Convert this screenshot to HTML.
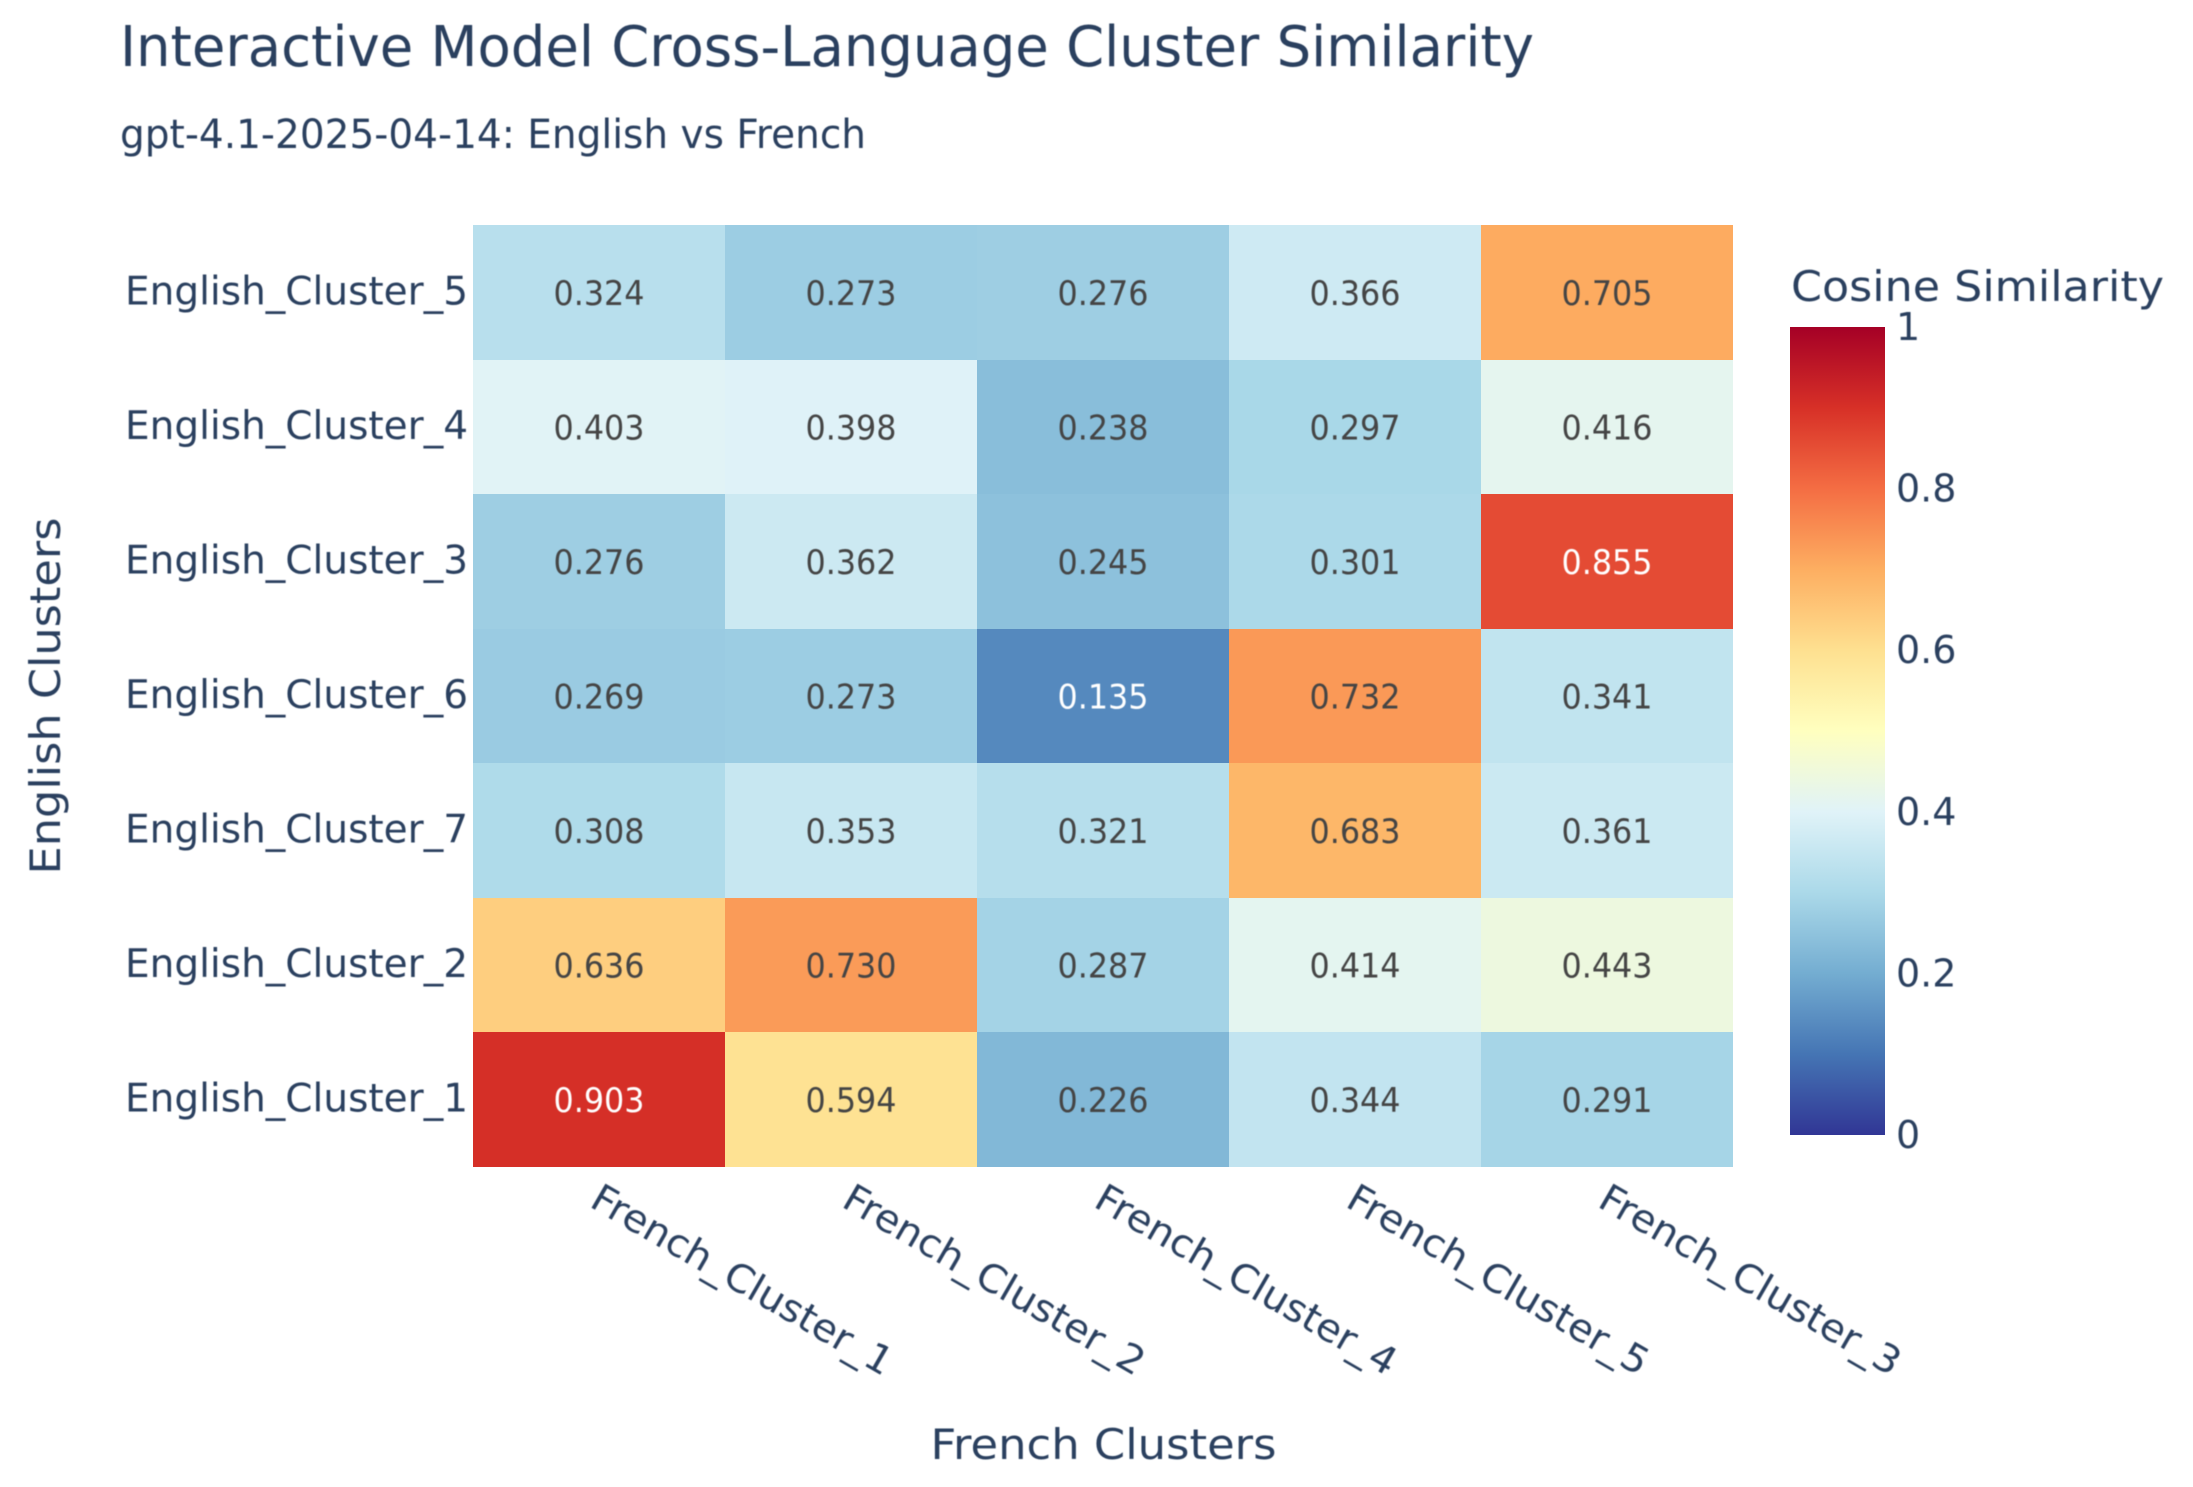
<!DOCTYPE html>
<html lang="en">
<head>
<meta charset="utf-8">
<title>Interactive Model Cross-Language Cluster Similarity</title>
<style>
html,body{margin:0;padding:0;background:#fff;width:2193px;height:1487px;overflow:hidden}
svg{display:block}
text{font-family:"DejaVu Sans","Liberation Sans",sans-serif;fill:#2a3f5f;filter:url(#soften)}
</style>
</head>
<body>
<svg id="chart" xmlns="http://www.w3.org/2000/svg" width="2193" height="1487" viewBox="0 0 2193 1487">
  <defs>
    <linearGradient id="cbar-gradient" x1="0" y1="1" x2="0" y2="0"></linearGradient>
    <filter id="soften" x="-5%" y="-30%" width="110%" height="160%"><feGaussianBlur stdDeviation="0.6"/></filter>
  </defs>
  <rect x="0" y="0" width="2193" height="1487" fill="#ffffff"/>
  <text x="120" y="66" font-size="56" textLength="1414" lengthAdjust="spacingAndGlyphs">Interactive Model Cross-Language Cluster Similarity</text>
  <text x="120" y="148" font-size="40" textLength="746" lengthAdjust="spacingAndGlyphs">gpt-4.1-2025-04-14: English vs French</text>
  <g id="cells"></g>
  <g id="cell-labels"></g>
  <g id="y-ticks"></g>
  <g id="x-ticks"></g>
  <text x="1103.5" y="1459" font-size="42" text-anchor="middle" textLength="346" lengthAdjust="spacingAndGlyphs">French Clusters</text>
  <text x="0" y="0" transform="translate(60,696) rotate(-90)" font-size="42" text-anchor="middle" textLength="357" lengthAdjust="spacingAndGlyphs">English Clusters</text>
  <text x="1791" y="301" font-size="42" textLength="373" lengthAdjust="spacingAndGlyphs">Cosine Similarity</text>
  <rect id="cbar" x="1790" y="327" width="95" height="808" fill="url(#cbar-gradient)"/>
  <g id="cbar-ticks"></g>
</svg>
<script>
// Chart data
const frenchClusters = ["French_Cluster_1", "French_Cluster_2", "French_Cluster_4", "French_Cluster_5", "French_Cluster_3"];
const englishClusters = ["English_Cluster_5", "English_Cluster_4", "English_Cluster_3", "English_Cluster_6", "English_Cluster_7", "English_Cluster_2", "English_Cluster_1"];
const rowCluster5 = [0.324, 0.273, 0.276, 0.366, 0.705];
const rowCluster4 = [0.403, 0.398, 0.238, 0.297, 0.416];
const rowCluster3 = [0.276, 0.362, 0.245, 0.301, 0.855];
const rowCluster6 = [0.269, 0.273, 0.135, 0.732, 0.341];
const rowCluster7 = [0.308, 0.353, 0.321, 0.683, 0.361];
const rowCluster2 = [0.636, 0.730, 0.287, 0.414, 0.443];
const rowCluster1 = [0.903, 0.594, 0.226, 0.344, 0.291];
const similarity = [rowCluster5, rowCluster4, rowCluster3, rowCluster6, rowCluster7, rowCluster2, rowCluster1];
const colorbarTicks = [0, 0.2, 0.4, 0.6, 0.8, 1];
const colorbarTickLabels = ["0", "0.2", "0.4", "0.6", "0.8", "1"];
const colorScale = [[49,54,149],[69,117,180],[116,173,209],[171,217,233],[224,243,248],[255,255,191],[254,224,144],[253,174,97],[244,109,67],[215,48,39],[165,0,38]];

// Layout
const plotLeft = 473, plotRight = 1733, plotTop = 225, plotBottom = 1167;
const cbarTop = 327, cbarBottom = 1135;
const NS = "http://www.w3.org/2000/svg";

// Axis functions
function xBand(i) { return plotLeft + i * (plotRight - plotLeft) / frenchClusters.length; }
function yBand(j) { return plotTop + j * (plotBottom - plotTop) / englishClusters.length; }
function cbarY(v) { return cbarBottom + (cbarTop - cbarBottom) * v; }
function colorFor(v) {
  const t = Math.max(0, Math.min(1, v)) * (colorScale.length - 1);
  const k = Math.min(Math.floor(t), colorScale.length - 2);
  const f = t - k;
  const c = colorScale[k].map(function (a, n) { return Math.round(a + (colorScale[k + 1][n] - a) * f); });
  return "rgb(" + c.join(",") + ")";
}
function textColorFor(v) { return (v < 0.2 || v > 0.8) ? "#ffffff" : "#444444"; }

const cellsGroup = document.getElementById("cells");
const cellLabelsGroup = document.getElementById("cell-labels");
const yTicksGroup = document.getElementById("y-ticks");
const xTicksGroup = document.getElementById("x-ticks");
const cbarTicksGroup = document.getElementById("cbar-ticks");
const gradient = document.getElementById("cbar-gradient");

// Cells and printed values
similarity.forEach(function (row, j) {
  row.forEach(function (v, i) {
    const x0 = Math.round(xBand(i)), x1 = Math.round(xBand(i + 1));
    const y0 = Math.round(yBand(j)), y1 = Math.round(yBand(j + 1));
    const rect = document.createElementNS(NS, "rect");
    
    
    rect.setAttribute("x", x0);
    rect.setAttribute("y", y0);
    rect.setAttribute("width", x1 - x0);
    rect.setAttribute("height", y1 - y0);
    rect.setAttribute("fill", colorFor(v));
    cellsGroup.appendChild(rect);

    const label = document.createElementNS(NS, "text");
    
    
    label.setAttribute("x", (x0 + x1) / 2);
    label.setAttribute("y", (y0 + y1) / 2 + 12.5);
    label.setAttribute("font-size", "34");
    label.setAttribute("text-anchor", "middle");
    label.setAttribute("textLength", "91");
    label.setAttribute("lengthAdjust", "spacingAndGlyphs");
    label.setAttribute("style", "fill:" + textColorFor(v));
    label.textContent = v.toFixed(3);
    cellLabelsGroup.appendChild(label);
  });
});

// Y tick labels
englishClusters.forEach(function (name, j) {
  const t = document.createElementNS(NS, "text");
  
  
  t.setAttribute("x", 468);
  t.setAttribute("y", (yBand(j) + yBand(j + 1)) / 2 + 12);
  t.setAttribute("font-size", "39");
  t.setAttribute("text-anchor", "end");
  t.setAttribute("textLength", "343");
  t.setAttribute("lengthAdjust", "spacingAndGlyphs");
  t.textContent = name;
  yTicksGroup.appendChild(t);
});

// X tick labels
frenchClusters.forEach(function (name, i) {
  const t = document.createElementNS(NS, "text");
  
  
  const cx = (xBand(i) + xBand(i + 1)) / 2;
  t.setAttribute("transform", "translate(" + (cx - 11) + ",1206) rotate(30)");
  t.setAttribute("font-size", "38");
  t.setAttribute("textLength", "341");
  t.setAttribute("lengthAdjust", "spacingAndGlyphs");
  t.textContent = name;
  xTicksGroup.appendChild(t);
});

// Colorbar gradient
colorScale.forEach(function (c, k) {
  const stop = document.createElementNS(NS, "stop");
  stop.setAttribute("offset", k / (colorScale.length - 1));
  stop.setAttribute("stop-color", "rgb(" + c.join(",") + ")");
  gradient.appendChild(stop);
});

// Colorbar ticks
colorbarTicks.forEach(function (v, k) {
  const t = document.createElementNS(NS, "text");
  
  
  t.setAttribute("x", 1896);
  t.setAttribute("y", cbarY(v) + 13);
  t.setAttribute("font-size", "38");
  t.textContent = colorbarTickLabels[k];
  cbarTicksGroup.appendChild(t);
});
</script>
</body>
</html>
